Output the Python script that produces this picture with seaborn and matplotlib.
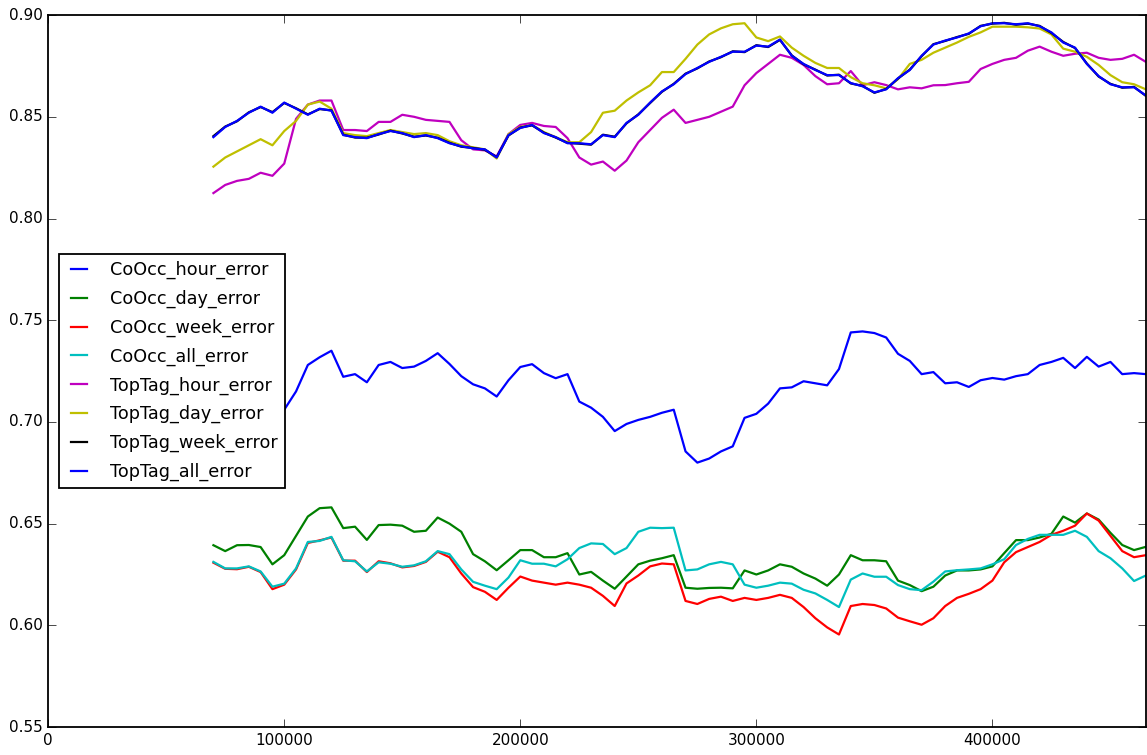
import numpy as np
import matplotlib
matplotlib.use("Agg")
import matplotlib.pyplot as plt
import seaborn as sns

# --- data (step 5000 from 70000 to 465000)
steps = np.arange(70000, 465001, 5000)

cooc_hour = [0.712, 0.714, 0.711, 0.716, 0.713, 0.709, 0.706, 0.715, 0.728, 0.7318,
             0.735, 0.7222, 0.7235, 0.7195, 0.728, 0.7295, 0.7265, 0.7272, 0.730, 0.7338,
             0.7285, 0.7225, 0.7185, 0.7165, 0.7125, 0.7205, 0.727, 0.7284, 0.724, 0.7215,
             0.7235, 0.710, 0.707, 0.7025, 0.6955, 0.699, 0.701, 0.7025, 0.7045, 0.706,
             0.6855, 0.680, 0.682, 0.6855, 0.688, 0.702, 0.704, 0.709, 0.7165, 0.717,
             0.720, 0.719, 0.718, 0.726, 0.744, 0.7445, 0.7437, 0.7415, 0.7335, 0.730,
             0.7235, 0.7245, 0.719, 0.7195, 0.7172, 0.7205, 0.7216, 0.7208, 0.7225, 0.7235,
             0.728, 0.7295, 0.7315, 0.7265, 0.732, 0.7272, 0.7295, 0.7235, 0.724, 0.7235]

cooc_day = [0.6394, 0.6365, 0.6394, 0.6395, 0.6385, 0.630, 0.6345, 0.644, 0.6535, 0.6576,
            0.658, 0.6478, 0.6485, 0.642, 0.6493, 0.6495, 0.649, 0.646, 0.6465, 0.653,
            0.650, 0.646, 0.635, 0.6315, 0.6271, 0.632, 0.637, 0.637, 0.6335, 0.6335,
            0.6355, 0.625, 0.6263, 0.622, 0.618, 0.624, 0.630, 0.6318, 0.633, 0.6345,
            0.6185, 0.618, 0.6184, 0.6185, 0.6182, 0.627, 0.625, 0.627, 0.630, 0.6288,
            0.6255, 0.623, 0.6195, 0.625, 0.6345, 0.632, 0.632, 0.6315, 0.622, 0.6198,
            0.6168, 0.619, 0.6245, 0.627, 0.627, 0.6275, 0.629, 0.6355, 0.6419, 0.6419,
            0.6432, 0.645, 0.6535, 0.6505, 0.655, 0.652, 0.6455, 0.6395, 0.637, 0.6386]

cooc_week = [0.6308, 0.6278, 0.6276, 0.6288, 0.6262, 0.6178, 0.620, 0.6275, 0.6405, 0.6418,
             0.6432, 0.6318, 0.6318, 0.6262, 0.6315, 0.6305, 0.6285, 0.6292, 0.6312, 0.6362,
             0.6335, 0.6255, 0.6188, 0.6165, 0.6125, 0.6185, 0.624, 0.622, 0.621, 0.620,
             0.621, 0.620, 0.6185, 0.6145, 0.6095, 0.6206, 0.6245, 0.629, 0.6304, 0.630,
             0.612, 0.6105, 0.613, 0.6141, 0.612, 0.6135, 0.6125, 0.6135, 0.615, 0.6135,
             0.609, 0.6035, 0.599, 0.5955, 0.6095, 0.6105, 0.610, 0.6083, 0.6038, 0.602,
             0.6003, 0.6035, 0.6095, 0.6135, 0.6155, 0.6178, 0.622, 0.631, 0.636, 0.6385,
             0.641, 0.6445, 0.6465, 0.649, 0.655, 0.6515, 0.644, 0.6365, 0.6335, 0.6345]

cooc_all = [0.6312, 0.628, 0.628, 0.629, 0.6265, 0.619, 0.6205, 0.628, 0.641, 0.6415,
            0.6435, 0.632, 0.6315, 0.6265, 0.631, 0.6303, 0.6288, 0.6295, 0.6315, 0.6365,
            0.635, 0.6275, 0.6214, 0.6195, 0.6178, 0.6235, 0.632, 0.6303, 0.6303, 0.629,
            0.6325, 0.638, 0.6403, 0.640, 0.635, 0.638, 0.646, 0.648, 0.6478, 0.648,
            0.627, 0.6275, 0.630, 0.6312, 0.630, 0.620, 0.6185, 0.6195, 0.621, 0.6205,
            0.6175, 0.6157, 0.6125, 0.609, 0.6225, 0.6255, 0.6239, 0.6239, 0.6198, 0.6178,
            0.6173, 0.6215, 0.6265, 0.6271, 0.6275, 0.628, 0.630, 0.6325, 0.6395, 0.6425,
            0.6445, 0.6445, 0.6445, 0.6465, 0.6435, 0.6365, 0.633, 0.628, 0.6218, 0.6245]

toptag_hour = [0.8125, 0.8165, 0.8185, 0.8195, 0.8225, 0.821, 0.827, 0.849, 0.856, 0.858,
               0.858, 0.8435, 0.8435, 0.843, 0.8475, 0.8475, 0.851, 0.850, 0.8485, 0.848,
               0.8475, 0.8385, 0.834, 0.8335, 0.8305, 0.8415, 0.846, 0.847, 0.8455, 0.845,
               0.8395, 0.830, 0.8265, 0.828, 0.8235, 0.8285, 0.8375, 0.8435, 0.8495, 0.8535,
               0.847, 0.8485, 0.850, 0.8525, 0.855, 0.8655, 0.8715, 0.876, 0.8805, 0.879,
               0.8755, 0.870, 0.866, 0.8665, 0.8725, 0.8655, 0.867, 0.8656, 0.8635, 0.8645,
               0.864, 0.8655, 0.8656, 0.8665, 0.8672, 0.8735, 0.876, 0.878, 0.879, 0.8825,
               0.8845, 0.882, 0.880, 0.881, 0.8815, 0.879, 0.878, 0.8785, 0.8805, 0.877]

toptag_day = [0.8255, 0.830, 0.833, 0.836, 0.839, 0.836, 0.843, 0.848, 0.856, 0.8575,
              0.854, 0.842, 0.841, 0.8405, 0.842, 0.8435, 0.8425, 0.8415, 0.842, 0.841,
              0.838, 0.836, 0.835, 0.834, 0.8295, 0.8415, 0.845, 0.846, 0.8425, 0.840,
              0.8375, 0.8375, 0.8425, 0.852, 0.853, 0.858, 0.862, 0.8655, 0.872, 0.872,
              0.8785, 0.8855, 0.8905, 0.8935, 0.8955, 0.896, 0.889, 0.8872, 0.8895, 0.884,
              0.880, 0.8765, 0.874, 0.874, 0.8695, 0.8665, 0.8655, 0.864, 0.8685, 0.876,
              0.878, 0.8815, 0.884, 0.8865, 0.8893, 0.8915, 0.8943, 0.8943, 0.8943, 0.894,
              0.8934, 0.8905, 0.8835, 0.882, 0.8795, 0.8755, 0.8705, 0.867, 0.866, 0.8635]

toptag_week = [0.8405, 0.8452, 0.8478, 0.8522, 0.8548, 0.8523, 0.8568, 0.8542, 0.8512, 0.8538,
               0.8532, 0.8412, 0.8398, 0.8397, 0.8413, 0.8432, 0.8418, 0.8402, 0.8408, 0.8397,
               0.8372, 0.8353, 0.8347, 0.8338, 0.8302, 0.8408, 0.8447, 0.8458, 0.8422, 0.8398,
               0.8372, 0.8368, 0.8363, 0.8412, 0.8402, 0.8468, 0.8512, 0.8568, 0.8623, 0.8662,
               0.8712, 0.8738, 0.8772, 0.8793, 0.8822, 0.8818, 0.8852, 0.8843, 0.8878, 0.8802,
               0.8758, 0.8732, 0.8703, 0.8707, 0.8664, 0.8652, 0.8618, 0.8637, 0.8688, 0.8732,
               0.8798, 0.8857, 0.8873, 0.8892, 0.8908, 0.8947, 0.8958, 0.8962, 0.8953, 0.8958,
               0.8947, 0.8912, 0.8868, 0.8838, 0.8762, 0.8698, 0.8662, 0.8643, 0.8647, 0.8603]

toptag_all = [0.840, 0.845, 0.848, 0.852, 0.855, 0.852, 0.857, 0.854, 0.851, 0.854,
              0.853, 0.841, 0.840, 0.8395, 0.8415, 0.843, 0.842, 0.840, 0.841, 0.8395,
              0.837, 0.8355, 0.8345, 0.834, 0.830, 0.841, 0.8445, 0.846, 0.842, 0.840,
              0.837, 0.837, 0.8365, 0.841, 0.840, 0.847, 0.851, 0.857, 0.8625, 0.866,
              0.871, 0.874, 0.877, 0.8795, 0.882, 0.882, 0.885, 0.8845, 0.888, 0.880,
              0.876, 0.873, 0.8705, 0.8705, 0.8666, 0.865, 0.862, 0.8635, 0.869, 0.873,
              0.880, 0.8855, 0.8875, 0.889, 0.891, 0.8945, 0.896, 0.896, 0.8955, 0.896,
              0.8945, 0.8915, 0.8865, 0.884, 0.876, 0.870, 0.866, 0.8645, 0.8645, 0.8605]

series = [
    ("CoOcc_hour_error", cooc_hour, "b"),
    ("CoOcc_day_error", cooc_day, "g"),
    ("CoOcc_week_error", cooc_week, "r"),
    ("CoOcc_all_error", cooc_all, "c"),
    ("TopTag_hour_error", toptag_hour, "m"),
    ("TopTag_day_error", toptag_day, "y"),
    ("TopTag_week_error", toptag_week, "k"),
    ("TopTag_all_error", toptag_all, "b"),
]

# old matplotlib look
plt.style.use("classic")
plt.rcParams["font.family"] = ["DejaVu Sans"]

fig, ax = plt.subplots(figsize=(11.47, 7.55), dpi=100)
fig.patch.set_facecolor("white")
fig.subplots_adjust(left=0.042, right=0.999, bottom=0.037, top=0.980)

for name, vals, color in series:
    sns.lineplot(x=steps, y=vals, color=color, label=name, linewidth=1.6, ax=ax)

ax.set_xlim(0, 465000)
ax.set_ylim(0.55, 0.90)
ax.set_xticks([0, 100000, 200000, 300000, 400000])
ax.set_xticklabels(["0", "100000", "200000", "300000", "400000"])
ax.set_yticks([0.55, 0.60, 0.65, 0.70, 0.75, 0.80, 0.85, 0.90])
ax.set_yticklabels(["0.55", "0.60", "0.65", "0.70", "0.75", "0.80", "0.85", "0.90"])
ax.tick_params(direction="in", length=6, labelsize=11, top=True, right=True)
ax.set_xlabel("")
ax.set_ylabel("")
for sp in ax.spines.values():
    sp.set_linewidth(1.3)

leg = ax.legend(loc="center left", bbox_to_anchor=(0.0, 0.5), fontsize=12.7,
                fancybox=False, frameon=True, handlelength=1.5, handletextpad=1.0,
                labelspacing=0.6, borderaxespad=0.6, numpoints=2)
leg.get_frame().set_edgecolor("black")
leg.get_frame().set_linewidth(1.3)

fig.savefig("out.png", dpi=100, facecolor="white")
